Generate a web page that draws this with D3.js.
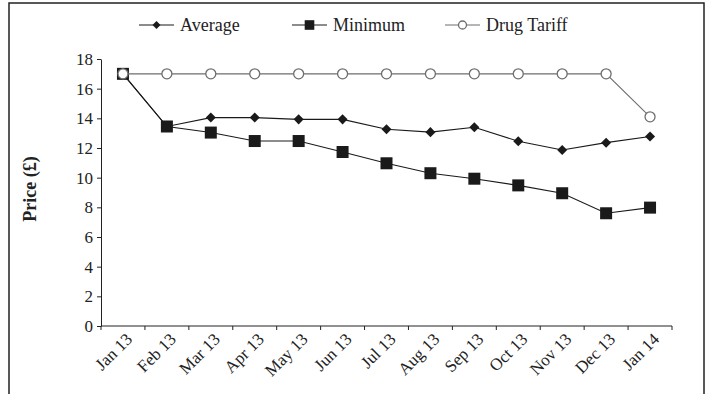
<!DOCTYPE html>
<html>
<head>
<meta charset="utf-8">
<script src="https://cdnjs.cloudflare.com/ajax/libs/d3/7.8.5/d3.min.js"></script>
<style>
  body { margin: 0; background: #fff; }
  svg { display: block; }
</style>
</head>
<body>
<script>
//==============================================================================
// DATA
//==============================================================================

const months = ['Jan 13', 'Feb 13', 'Mar 13', 'Apr 13', 'May 13', 'Jun 13', 'Jul 13',
  'Aug 13', 'Sep 13', 'Oct 13', 'Nov 13', 'Dec 13', 'Jan 14'];

const average = [17, 13.45, 14.05, 14.05, 13.93, 13.93, 13.26, 13.07, 13.4, 12.45, 11.87, 12.36, 12.78];
const minimum = [17, 13.45, 13.04, 12.47, 12.47, 11.73, 10.97, 10.3, 9.93, 9.48, 8.95, 7.6, 7.98];
const drugTariff = [17, 17, 17, 17, 17, 17, 17, 17, 17, 17, 17, 17, 14.1];

const yTicks = [0, 2, 4, 6, 8, 10, 12, 14, 16, 18];

//==============================================================================
// PARAMETERS
//==============================================================================

const FONT = 'Liberation Serif';
const W = 709, H = 394;
const margin = { top: 59, right: 37, bottom: 68, left: 101 };
const width = W - margin.left - margin.right;
const height = H - margin.top - margin.bottom;

const svg = d3.select('body').append('svg')
  .attr('width', W)
  .attr('height', H)
  .attr('font-family', FONT);

// outer frame
svg.append('rect')
  .attr('x', 9).attr('y', 3)
  .attr('width', 695).attr('height', H + 10)
  .attr('fill', 'none')
  .attr('stroke', '#222')
  .attr('stroke-width', 1.5);

const g = svg.append('g')
  .attr('transform', `translate(${margin.left},${margin.top})`);

const x = d3.scaleBand().domain(months).range([0, width]);
const y = d3.scaleLinear().domain([0, 18]).range([height, 0]);
const cx = d => x(d) + x.bandwidth() / 2;

//==============================================================================
// DRAW
//==============================================================================

// y axis
const ya = g.append('g')
  .attr('class', 'axis axis--y')
  .call(d3.axisLeft(y).tickValues(yTicks).tickSize(4).tickPadding(4).tickSizeOuter(0))
  .attr('font-family', FONT)
  .attr('font-size', 17);
ya.selectAll('path, line').attr('stroke', '#222');
ya.selectAll('text')
  .attr('font-family', FONT)
  .attr('fill', '#222');

// x axis (ticks on band edges)
const xa = g.append('g')
  .attr('class', 'axis axis--x')
  .attr('transform', `translate(0,${height})`);
xa.append('line')
  .attr('x1', 0).attr('x2', width)
  .attr('stroke', '#222');
xa.selectAll('.tk')
  .data(months.concat(['end']))
  .enter().append('line')
  .attr('class', 'tk')
  .attr('x1', (d, i) => i * x.step()).attr('x2', (d, i) => i * x.step())
  .attr('y1', 0).attr('y2', 4)
  .attr('stroke', '#222');
xa.selectAll('text')
  .data(months)
  .enter().append('text')
  .attr('transform', d => `translate(${cx(d) + 6},${10}) rotate(-45)`)
  .attr('text-anchor', 'end')
  .attr('dy', '0.35em')
  .attr('font-family', FONT)
  .attr('font-size', 17)
  .attr('fill', '#222')
  .text(d => d);

// y title
svg.append('text')
  .attr('transform', `translate(36,189) rotate(-90)`)
  .attr('text-anchor', 'middle')
  .attr('font-family', FONT)
  .attr('font-size', 18)
  .attr('font-weight', 'bold')
  .attr('fill', '#222')
  .text('Price (£)');

// lines
const line = d3.line()
  .x((d, i) => cx(months[i]))
  .y(d => y(d));

const series = [
  { name: 'Average', values: average, color: '#1a1a1a', marker: 'diamond' },
  { name: 'Minimum', values: minimum, color: '#1a1a1a', marker: 'square' },
  { name: 'Drug Tariff', values: drugTariff, color: '#6e6e6e', marker: 'circle' }
];

function drawMarker(sel, type, color, k) {
  if (type === 'diamond') {
    sel.append('path')
      .attr('d', d3.symbol().type(d3.symbolDiamond2).size(64 * k * k))
      .attr('fill', color);
  } else if (type === 'square') {
    sel.append('rect')
      .attr('x', -6 * k).attr('y', -6 * k).attr('width', 12 * k).attr('height', 12 * k)
      .attr('fill', color);
  } else {
    sel.append('circle')
      .attr('r', 5 * k)
      .attr('fill', '#fff')
      .attr('stroke', color)
      .attr('stroke-width', 1.3);
  }
}

series.forEach(s => {
  g.append('path')
    .datum(s.values)
    .attr('fill', 'none')
    .attr('stroke', s.color)
    .attr('stroke-width', 1.1)
    .attr('d', line);

  g.append('g').selectAll('g')
    .data(s.values)
    .enter().append('g')
    .attr('transform', (d, i) => `translate(${cx(months[i])},${y(d)})`)
    .each(function () { drawMarker(d3.select(this), s.marker, s.color, 1); });
});

// legend
const legendX = [139, 292, 445];
const legend = svg.append('g').attr('transform', 'translate(0,25)');
series.forEach((s, i) => {
  const lg = legend.append('g').attr('transform', `translate(${legendX[i]},0)`);
  lg.append('line')
    .attr('x1', 0).attr('x2', 35)
    .attr('stroke', s.color)
    .attr('stroke-width', 1.1);
  const m = lg.append('g').attr('transform', 'translate(17.5,0)');
  drawMarker(m, s.marker, s.color, 0.8);
  lg.append('text')
    .attr('x', 41)
    .attr('dy', '0.35em')
    .attr('font-family', FONT)
    .attr('font-size', 18)
    .attr('fill', '#222')
    .text(s.name);
});
</script>
</body>
</html>
